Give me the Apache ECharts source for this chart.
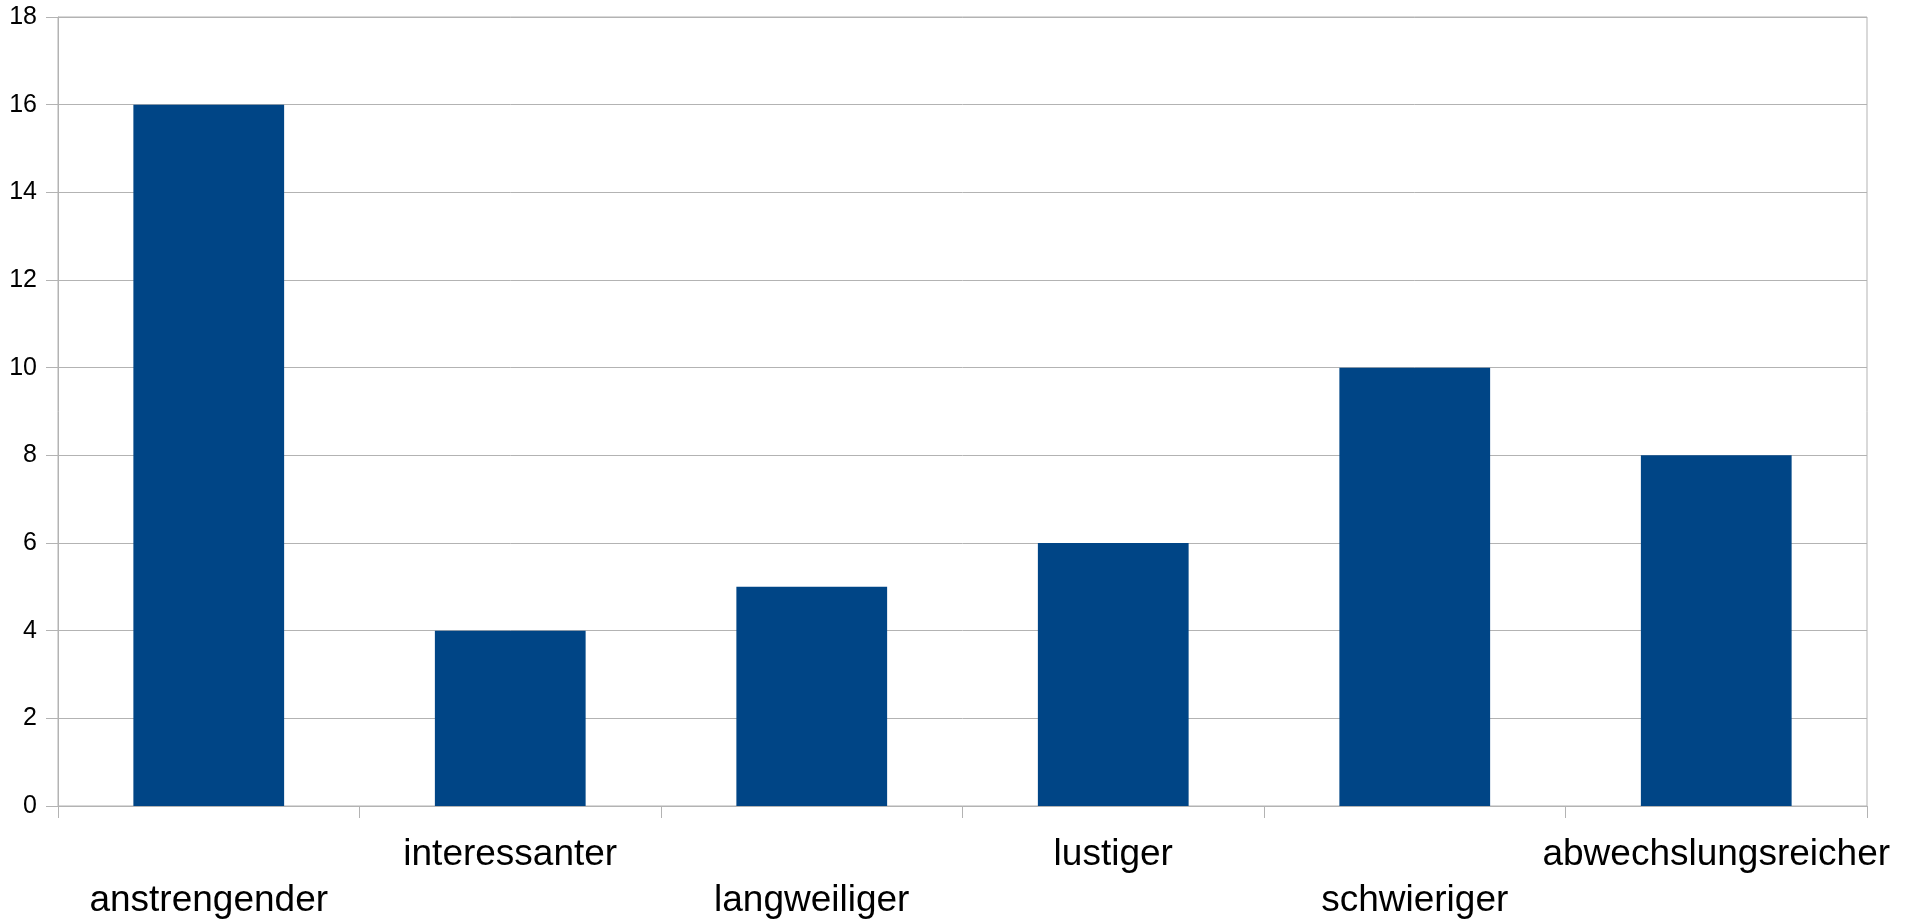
<!DOCTYPE html>
<html>
<head>
<meta charset="utf-8">
<script src="https://cdn.jsdelivr.net/npm/echarts@6/dist/echarts.min.js"></script>
<style>
html,body{margin:0;padding:0;background:#fff;}
#chart{width:1923px;height:920px;}
</style>
</head>
<body>
<div id="chart"></div>
<script>
const categories = ['anstrengender', 'interessanter', 'langweiliger', 'lustiger', 'schwieriger', 'abwechslungsreicher'];
const values = [16, 4, 5, 6, 10, 8];
const yTicks = [0, 2, 4, 6, 8, 10, 12, 14, 16, 18];

const chart = echarts.init(document.getElementById('chart'));
chart.setOption({
  animation: false,
  backgroundColor: '#ffffff',
  grid: { left: 58, right: 56, top: 17, bottom: 114, containLabel: false, outerBoundsMode: 'none', show: true, borderColor: '#b3b3b3', borderWidth: 1, backgroundColor: 'transparent' },
  xAxis: {
    type: 'category',
    data: categories,
    boundaryGap: true,
    axisLine: { show: true, lineStyle: { color: '#b3b3b3', width: 1 } },
    axisTick: { show: true, length: 12, alignWithLabel: false, interval: 0, lineStyle: { color: '#b3b3b3' } },
    axisLabel: {
      interval: 0,
      margin: 26,
      color: '#000',
      fontFamily: 'Liberation Sans, Arial, sans-serif',
      fontSize: 37,
      lineHeight: 46,
      formatter: function (v, i) { return i % 2 === 0 ? '\n' + v : v; }
    },
    splitLine: { show: false }
  },
  yAxis: {
    type: 'value',
    min: yTicks[0],
    max: yTicks[yTicks.length - 1],
    interval: 2,
    axisLine: { show: true, lineStyle: { color: '#b3b3b3', width: 1 } },
    axisTick: { show: true, length: 12, lineStyle: { color: '#b3b3b3' } },
    axisLabel: { margin: 21, color: '#000', fontFamily: 'Liberation Sans, Arial, sans-serif', fontSize: 25 },
    splitLine: { show: true, lineStyle: { color: '#b3b3b3', width: 1 } }
  },
  series: [{
    type: 'bar',
    data: values,
    barWidth: '50%',
    itemStyle: { color: '#004586' }
  }]
});
</script>
</body>
</html>
